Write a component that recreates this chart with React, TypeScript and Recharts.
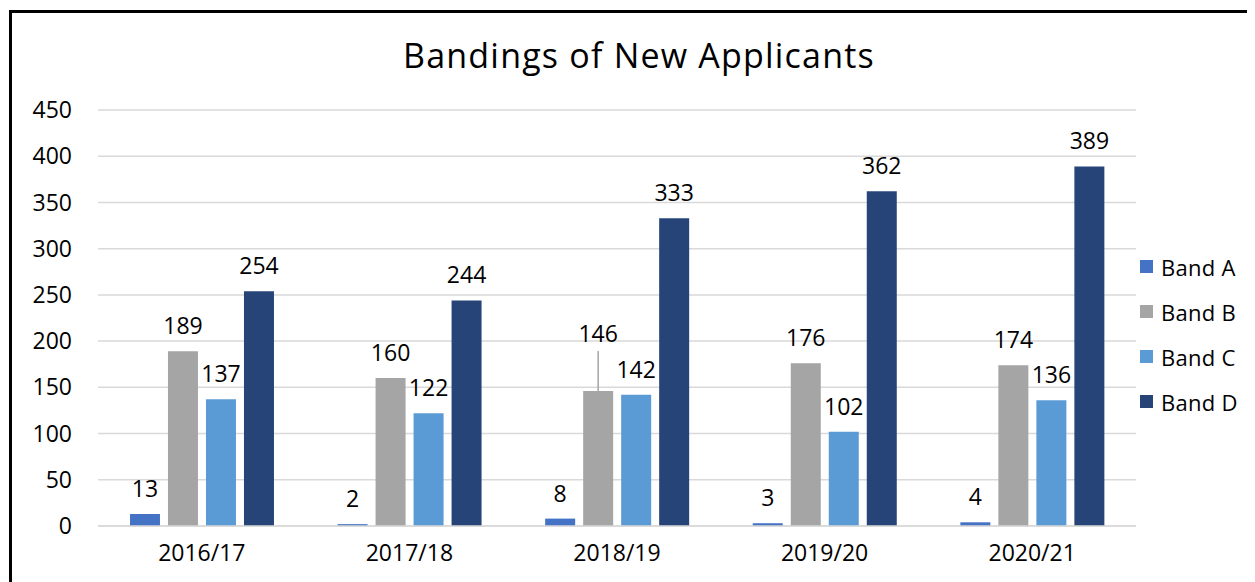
import React from "react";
import { BarChart, Bar, XAxis, YAxis, CartesianGrid, LabelList } from "recharts";

const categories = ["2016/17", "2017/18", "2018/19", "2019/20", "2020/21"];
const bandA = [13, 2, 8, 3, 4];
const bandB = [189, 160, 146, 176, 174];
const bandC = [137, 122, 142, 102, 136];
const bandD = [254, 244, 333, 362, 389];
const yTicks = [0, 50, 100, 150, 200, 250, 300, 350, 400, 450];
const seriesNames = ["Band A", "Band B", "Band C", "Band D"];
const seriesKeys = ["a", "b", "c", "d"];
const seriesColors = ["#4472C4", "#A5A5A5", "#5B9BD5", "#264478"];

const data = categories.map((c, i) => ({
  name: c,
  a: bandA[i],
  b: bandB[i],
  c: bandC[i],
  d: bandD[i],
}));

const FONT = "'Open Sans', sans-serif";
const FS = 23;

const makeLabel = (leaderIndex: number | null) => (props: any) => {
  const { x, y, width, value, index } = props;
  const cx = Number(x) + Number(width) / 2;
  const top = Number(y);
  if (leaderIndex !== null && index === leaderIndex) {
    const ly = top - 40;
    return (
      <g>
        <line x1={cx} y1={ly} x2={cx} y2={top} stroke="#A5A5A5" strokeWidth={1.5} />
        <text x={cx} y={ly - 9} textAnchor="middle" fontSize={FS} fill="#000" fontFamily={FONT}>
          {value}
        </text>
      </g>
    );
  }
  return (
    <text x={cx} y={top - 17} textAnchor="middle" fontSize={FS} fill="#000" fontFamily={FONT}>
      {value}
    </text>
  );
};

export default function App() {
  return (
    <div style={{ position: "relative", width: 1247, height: 574, background: "#fff", overflow: "hidden" }}>
      <div
        style={{
          position: "absolute",
          left: 1,
          top: 2,
          width: 1260,
          height: 590,
          borderLeft: "3px solid #000",
          borderTop: "3px solid #000",
          boxSizing: "border-box",
        }}
      />
      <div
        style={{
          position: "absolute",
          left: 0,
          width: 1262,
          top: 24,
          textAlign: "center",
          fontFamily: FONT,
          fontSize: 34,
          letterSpacing: 1.2,
          color: "#000",
        }}
      >
        Bandings of New Applicants
      </div>
      <BarChart
        width={1247}
        height={574}
        data={data}
        margin={{ top: 102, right: 119, left: 0, bottom: 26 }}
        barGap={8}
        barCategoryGap="15.4%"
        style={{ position: "absolute", left: 0, top: 0 }}
      >
        <CartesianGrid vertical={false} stroke="#D9D9D9" strokeWidth={1.5} />
        <XAxis
          dataKey="name"
          axisLine={{ stroke: "#D9D9D9", strokeWidth: 1.5 }}
          tickLine={false}
          tickSize={0}
          tickMargin={19}
          interval={0}
          tick={{ fill: "#000", fontSize: FS, fontFamily: FONT }}
        />
        <YAxis
          width={90}
          domain={[0, 450]}
          ticks={yTicks}
          interval={0}
          axisLine={false}
          tickLine={false}
          tickSize={0}
          tickMargin={26}
          tick={{ fill: "#000", fontSize: FS, fontFamily: FONT }}
        />
        {seriesKeys.map((k, i) => (
          <Bar key={k} dataKey={k} name={seriesNames[i]} fill={seriesColors[i]} isAnimationActive={false}>
            <LabelList dataKey={k} content={makeLabel(k === "b" ? 2 : null)} />
          </Bar>
        ))}
      </BarChart>
      <div
        style={{
          position: "absolute",
          left: 1132,
          top: 236,
          fontFamily: FONT,
          fontSize: 22,
          letterSpacing: 0.3,
          color: "#000",
        }}
      >
        {seriesNames.map((n, i) => (
          <div key={n} style={{ display: "flex", alignItems: "center", height: 45 }}>
            <span
              style={{ display: "inline-block", width: 13, height: 13, background: seriesColors[i], marginRight: 8 }}
            />
            <span>{n}</span>
          </div>
        ))}
      </div>
    </div>
  );
}
